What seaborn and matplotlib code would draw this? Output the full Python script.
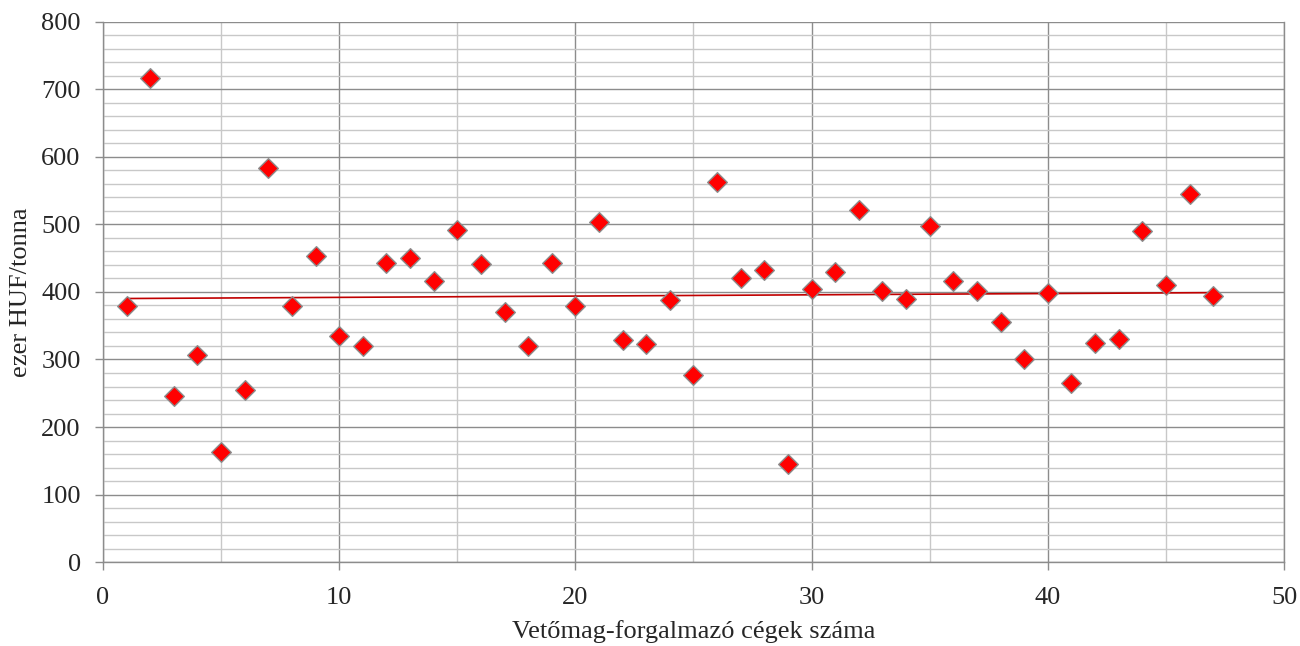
import numpy as np
import pandas as pd
import matplotlib
matplotlib.use("Agg")
import matplotlib.pyplot as plt
import seaborn as sns
from matplotlib.ticker import MultipleLocator

companies = list(range(1, 48))
prices = [379, 717, 246, 307, 163, 255, 584, 379, 453, 335,
          320, 443, 450, 416, 492, 441, 370, 320, 443, 379,
          504, 329, 323, 388, 277, 563, 421, 433, 145, 404,
          430, 521, 401, 390, 498, 416, 401, 356, 301, 399,
          265, 324, 330, 490, 410, 545, 394]
xlabel = "Vetőmag-forgalmazó cégek száma"
ylabel = "ezer HUF/tonna"

df = pd.DataFrame({"x": companies, "y": prices})

sns.set_style("white")
plt.rcParams['font.family'] = ['Liberation Serif', 'DejaVu Serif']

fig = plt.figure(figsize=(13, 6.46), dpi=100)
ax = fig.add_axes([0.0792, 0.130, 0.9085, 0.836])

sns.regplot(data=df, x="x", y="y", ax=ax, ci=None, scatter=False,
            line_kws=dict(color="#C00000", lw=1.2, zorder=3))
sns.scatterplot(data=df, x="x", y="y", ax=ax, marker="D", s=100,
                color="#FF0000", edgecolor="#8C8C8C", linewidth=1.0, zorder=4)

ax.set_xlim(0, 50)
ax.set_ylim(0, 800)
ax.xaxis.set_major_locator(MultipleLocator(10))
ax.xaxis.set_minor_locator(MultipleLocator(5))
ax.yaxis.set_major_locator(MultipleLocator(100))
ax.yaxis.set_minor_locator(MultipleLocator(20))
ax.grid(which="major", color="#8C8C8C", lw=1.0, zorder=0)
ax.grid(which="minor", color="#C8C8C8", lw=1.0, zorder=0)
ax.set_axisbelow(True)
ax.tick_params(which="major", direction="out", length=6, width=1, color="#8C8C8C",
               labelsize=19, left=True, bottom=True)
ax.tick_params(axis="x", which="major", pad=12)
ax.tick_params(axis="y", which="major", pad=10)
ax.tick_params(which="minor", length=0)
for side in ["left", "bottom", "right"]:
    ax.spines[side].set_color("#8C8C8C")
    ax.spines[side].set_linewidth(1.0)
ax.spines["top"].set_visible(False)

ax.set_xlabel(xlabel, fontsize=19, labelpad=8)
ax.set_ylabel(ylabel, fontsize=19, labelpad=7)

fig.savefig("out.png", dpi=100)
